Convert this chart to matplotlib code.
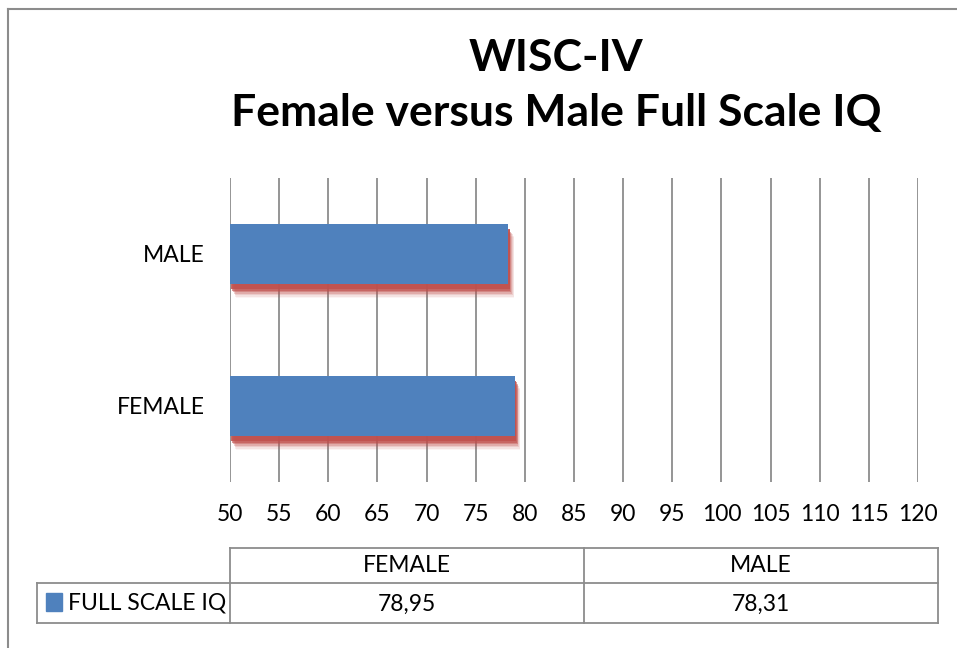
import matplotlib
matplotlib.use("Agg")
import matplotlib.pyplot as plt
import matplotlib.patheffects as pe
from matplotlib.lines import Line2D
from matplotlib.patches import Rectangle

# data
categories = ["FEMALE", "MALE"]
full_scale_iq = [78.95, 78.31]
series_name = "FULL SCALE IQ"
title_lines = ["WISC-IV", "Female versus Male Full Scale IQ"]
x_min, x_max, x_step = 50, 120, 5

BLUE = "#4F81BD"
SHADOW = "#C0504D"
GRID = "#8C8C8C"
FONT = ["Lato", "DejaVu Sans"]
FS = 16.5

W, H = 957, 648
fig = plt.figure(figsize=(W / 100, H / 100), dpi=100)
fig.patch.set_facecolor("white")


def fx(px):
    return px / W


def fy(py):
    return 1 - py / H


# outer chart border (left and top edges visible)
fig.add_artist(Line2D([fx(8), fx(8)], [fy(9), 0], color=GRID, lw=1.5))
fig.add_artist(Line2D([fx(8), 1], [fy(9), fy(9)], color=GRID, lw=1.5))

# title
fig.text(fx(556), fy(58), title_lines[0], ha="center", va="center",
         fontsize=32, fontweight="bold", family=FONT)
fig.text(fx(556), fy(113), title_lines[1], ha="center", va="center",
         fontsize=32, fontweight="bold", family=FONT)

# plot area
left, right, top, bottom = 230, 918, 178, 482
ax = fig.add_axes([fx(left), fy(bottom), fx(right - left), (bottom - top) / H])
ax.set_xlim(x_min, x_max)
ax.set_ylim(-0.5, len(categories) - 0.5)

ticks = list(range(x_min, x_max + 1, x_step))
for t in ticks:
    ax.axvline(t, color=GRID, lw=1.3, zorder=0)

# soft red drop shadow, built from stacked offset copies
shadow_fx = [
    pe.SimplePatchShadow(offset=(4.2, -9.8), shadow_rgbFace=SHADOW, alpha=0.06),
    pe.SimplePatchShadow(offset=(3.8, -8.8), shadow_rgbFace=SHADOW, alpha=0.1),
    pe.SimplePatchShadow(offset=(3.3, -7.8), shadow_rgbFace=SHADOW, alpha=0.16),
    pe.SimplePatchShadow(offset=(2.8, -6.8), shadow_rgbFace=SHADOW, alpha=0.25),
    pe.SimplePatchShadow(offset=(2.2, -5.8), shadow_rgbFace=SHADOW, alpha=0.4),
    pe.SimplePatchShadow(offset=(1.6, -4.8), shadow_rgbFace=SHADOW, alpha=0.6),
    pe.SimplePatchShadow(offset=(1.0, -3.6), shadow_rgbFace=SHADOW, alpha=0.85),
    pe.Normal(),
]
widths = [v - x_min for v in full_scale_iq]
bars = ax.barh(range(len(categories)), widths, left=x_min, height=0.4,
               color=BLUE, zorder=2)
for b in bars:
    b.set_path_effects(shadow_fx)

ax.set_xticks(ticks)
ax.set_xticklabels([str(t) for t in ticks], fontsize=FS, family=FONT)
ax.set_yticks(range(len(categories)))
ax.set_yticklabels(categories, fontsize=FS, family=FONT)
ax.tick_params(axis="both", length=0)
ax.tick_params(axis="x", pad=16)
ax.tick_params(axis="y", pad=18)
for s in ax.spines.values():
    s.set_visible(False)

# data table under the chart
col_x = [37, 230, 584, 938]
lw = 1.3
fig.add_artist(Line2D([fx(230), fx(938)], [fy(548), fy(548)], color=GRID, lw=lw))
fig.add_artist(Line2D([fx(37), fx(938)], [fy(583), fy(583)], color=GRID, lw=lw))
fig.add_artist(Line2D([fx(37), fx(938)], [fy(623), fy(623)], color=GRID, lw=lw))
fig.add_artist(Line2D([fx(37), fx(37)], [fy(583), fy(623)], color=GRID, lw=lw))
for x in col_x[1:]:
    fig.add_artist(Line2D([fx(x), fx(x)], [fy(548), fy(623)], color=GRID, lw=lw))

for i, cat in enumerate(categories):
    cx = (col_x[i + 1] + col_x[i + 2]) / 2
    fig.text(fx(cx), fy(566), cat, ha="center", va="center", fontsize=FS, family=FONT)
    fig.text(fx(cx), fy(604), f"{full_scale_iq[i]:.2f}".replace(".", ","),
             ha="center", va="center", fontsize=FS, family=FONT)

fig.add_artist(Rectangle((fx(46), fy(611)), fx(16), 18 / H, color=BLUE))
fig.text(fx(68), fy(603), series_name, ha="left", va="center", fontsize=FS, family=FONT)

fig.savefig("out.png", dpi=100)
